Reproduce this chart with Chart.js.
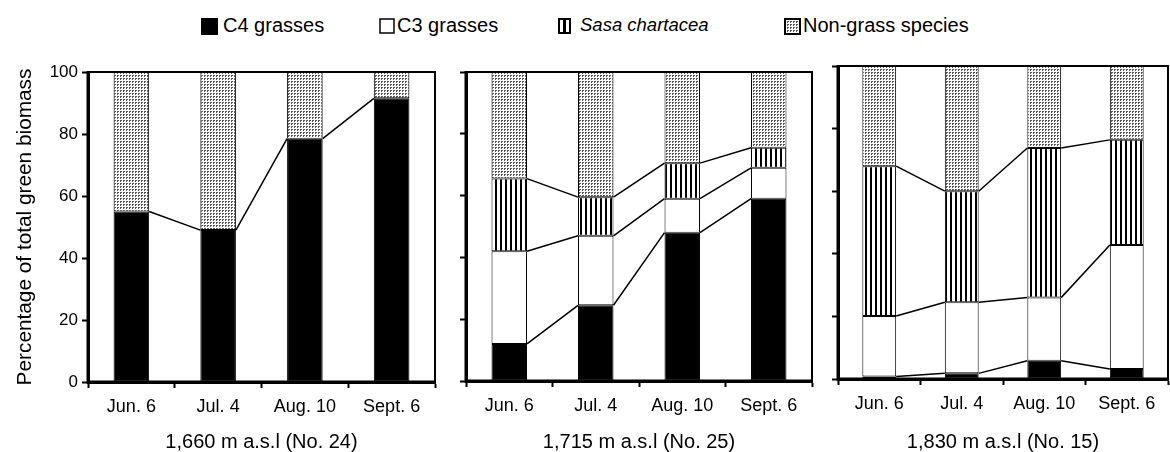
<!DOCTYPE html>
<html>
<head>
<meta charset="utf-8">
<script src="https://cdn.jsdelivr.net/npm/chart.js@4"></script>
<style>
  body { margin: 0; background: #fff; }
  #wrap { position: relative; width: 1170px; height: 452px; overflow: hidden;
          font-family: 'Liberation Sans', Arial, sans-serif; color: #000; }
  canvas { position: absolute; top: 0; }
  .lg { position: absolute; top: 15px; font-size: 20px; line-height: 20px; white-space: nowrap; }
</style>
</head>
<body>
<div id="wrap">
  <canvas id="sw0" width="17" height="17" style="left:201px;top:18px"></canvas>
  <div class="lg" style="left:223px">C4 grasses</div>
  <canvas id="sw1" width="16" height="16" style="left:379px;top:18px"></canvas>
  <div class="lg" style="left:397px">C3 grasses</div>
  <canvas id="sw2" width="13" height="16" style="left:558px;top:18px"></canvas>
  <div class="lg" style="left:580px;font-style:italic;font-size:18.5px">Sasa chartacea</div>
  <canvas id="sw3" width="17" height="17" style="left:784px;top:18px"></canvas>
  <div class="lg" style="left:803px">Non-grass species</div>

  <canvas id="p24" width="450" height="452" style="left:0px"></canvas>
  <canvas id="p25" width="370" height="452" style="left:450px"></canvas>
  <canvas id="p15" width="350" height="452" style="left:820px"></canvas>
</div>
<script>
// sampling dates and y ticks
const dates = ['Jun. 6', 'Jul. 4', 'Aug. 10', 'Sept. 6'];
const yTicks = [0, 20, 40, 60, 80, 100];
const yTitle = 'Percentage of total green biomass';
const siteTitles = ['1,660 m a.s.l (No. 24)', '1,715 m a.s.l (No. 25)', '1,830 m a.s.l (No. 15)'];

// % of total green biomass, per group (stacked segments)
// No. 24
const c4_24   = [55, 49, 78.5, 91.5];
const c3_24   = [0, 0, 0, 0];
const sasa_24 = [0, 0, 0, 0];
const non_24  = [45, 51, 21.5, 8.5];
// No. 25
const c4_25   = [12, 24.5, 48, 59];
const c3_25   = [30, 22.5, 11, 10];
const sasa_25 = [23.5, 12.5, 11.5, 6.5];
const non_25  = [34.5, 40.5, 29.5, 24.5];
// No. 15
const c4_15   = [0.8, 1.8, 5.8, 3.2];
const c3_15   = [19.3, 22.7, 20.2, 39.6];
const sasa_15 = [47.9, 35.5, 47.8, 33.6];
const non_15  = [32, 40, 26.2, 23.6];

Chart.defaults.font.family = "'Liberation Sans', Arial, sans-serif";
Chart.defaults.color = '#000';

// fill patterns
function stipplePattern() {
  const c = document.createElement('canvas');
  c.width = 3; c.height = 3;
  const g = c.getContext('2d');
  g.fillStyle = '#fff'; g.fillRect(0, 0, 3, 3);
  g.fillStyle = '#555';
  g.fillRect(0, 0, 2, 1);
  g.fillRect(0, 1, 1, 1);
  return g.createPattern(c, 'repeat');
}
function stripePattern() {
  const c = document.createElement('canvas');
  c.width = 5; c.height = 1;
  const g = c.getContext('2d');
  g.fillStyle = '#fff'; g.fillRect(0, 0, 5, 1);
  g.fillStyle = '#000'; g.fillRect(0, 0, 2, 1);
  return g.createPattern(c, 'repeat');
}
const stipple = stipplePattern();
const stripes = stripePattern();

// legend swatches
(function () {
  let g = document.getElementById('sw0').getContext('2d');
  g.fillStyle = '#000'; g.fillRect(0, 0, 17, 17);
  g = document.getElementById('sw1').getContext('2d');
  g.strokeStyle = '#000'; g.lineWidth = 1.5; g.strokeRect(1, 1, 14, 14);
  g = document.getElementById('sw2').getContext('2d');
  g.fillStyle = '#000'; g.fillRect(0, 0, 13, 16);
  g.fillStyle = '#fff'; g.fillRect(2, 2, 3, 12); g.fillRect(8, 2, 3, 12);
  g = document.getElementById('sw3').getContext('2d');
  g.fillStyle = stipple; g.fillRect(0, 0, 17, 17);
  g.strokeStyle = '#000'; g.lineWidth = 2; g.strokeRect(1, 1, 15, 15);
})();

// frame around the plot and the lines joining segment tops
const frameLines = {
  id: 'frameLines',
  afterDatasetsDraw(chart) {
    const ctx = chart.ctx;
    const a = chart.chartArea;
    ctx.save();
    ctx.strokeStyle = '#000';
    ctx.lineWidth = 1.5;
    for (let d = 0; d < 3; d++) {
      if (!chart.data.datasets[d].data.some(v => v > 0)) continue;
      const bars = chart.getDatasetMeta(d).data;
      ctx.beginPath();
      for (let i = 0; i < bars.length - 1; i++) {
        const b0 = bars[i], b1 = bars[i + 1];
        ctx.moveTo(b0.x + b0.width / 2, b0.y);
        ctx.lineTo(b1.x - b1.width / 2, b1.y);
      }
      ctx.stroke();
    }
    ctx.lineWidth = 2;
    ctx.strokeRect(a.left, a.top, a.right - a.left, a.bottom - a.top);
    ctx.lineWidth = 3;
    ctx.beginPath();
    ctx.moveTo(a.left, a.top - 1);
    ctx.lineTo(a.left, a.bottom);
    ctx.lineTo(a.right + 1, a.bottom);
    ctx.stroke();
    ctx.restore();
  }
};

function makePanel(id, title, c4, c3, sasa, non, p) {
  const sets = [
    { label: 'C4 grasses', data: c4, backgroundColor: '#000' },
    { label: 'C3 grasses', data: c3, backgroundColor: '#fff' },
    { label: 'Sasa chartacea', data: sasa, backgroundColor: stripes },
    { label: 'Non-grass species', data: non, backgroundColor: stipple }
  ].map(d => Object.assign(d, {
    borderColor: '#000', borderWidth: 1, borderSkipped: false,
    barPercentage: 0.41, categoryPercentage: 1
  }));

  return new Chart(document.getElementById(id), {
    type: 'bar',
    data: { labels: dates, datasets: sets },
    options: {
      responsive: false,
      animation: false,
      layout: { padding: { top: p.top, right: p.right, left: 0, bottom: 0 } },
      plugins: { legend: { display: false }, tooltip: { enabled: false } },
      scales: {
        x: {
          stacked: true,
          offset: true,
          grid: { offset: true, drawOnChartArea: false, drawTicks: true,
                  tickLength: 6, tickWidth: 2, tickColor: '#000' },
          border: { display: true, width: 3, color: '#000' },
          ticks: { color: '#000', font: { size: 18 }, padding: 8, maxRotation: 0, autoSkip: false },
          title: { display: true, text: title, color: '#000',
                   font: { size: 20, lineHeight: 1 }, padding: 0 },
          afterFit(s) { s.height = p.xHeight; }
        },
        y: {
          stacked: true,
          min: 0, max: 100,
          afterBuildTicks(s) { s.ticks = yTicks.map(v => ({ value: v })); },
          grid: { drawOnChartArea: false, drawTicks: true,
                  tickLength: 6, tickWidth: 2, tickColor: '#000' },
          border: { display: true, width: 3, color: '#000' },
          ticks: { display: p.showY, color: '#000', font: { size: 17 }, padding: 4 },
          title: { display: p.showY, text: yTitle, color: '#000',
                   font: { size: 20.8, lineHeight: 1 }, padding: { top: 15, bottom: 0 } },
          afterFit(s) { s.width = p.yWidth; }
        }
      }
    },
    plugins: [frameLines]
  });
}

makePanel('p24', siteTitles[0], c4_24, c3_24, sasa_24, non_24,
  { top: 72, right: 15, xHeight: 70, yWidth: 88, showY: true });
makePanel('p25', siteTitles[1], c4_25, c3_25, sasa_25, non_25,
  { top: 72, right: 8, xHeight: 71, yWidth: 16, showY: false });
makePanel('p15', siteTitles[2], c4_15, c3_15, sasa_15, non_15,
  { top: 66, right: 2, xHeight: 73, yWidth: 18, showY: false });
</script>
</body>
</html>
